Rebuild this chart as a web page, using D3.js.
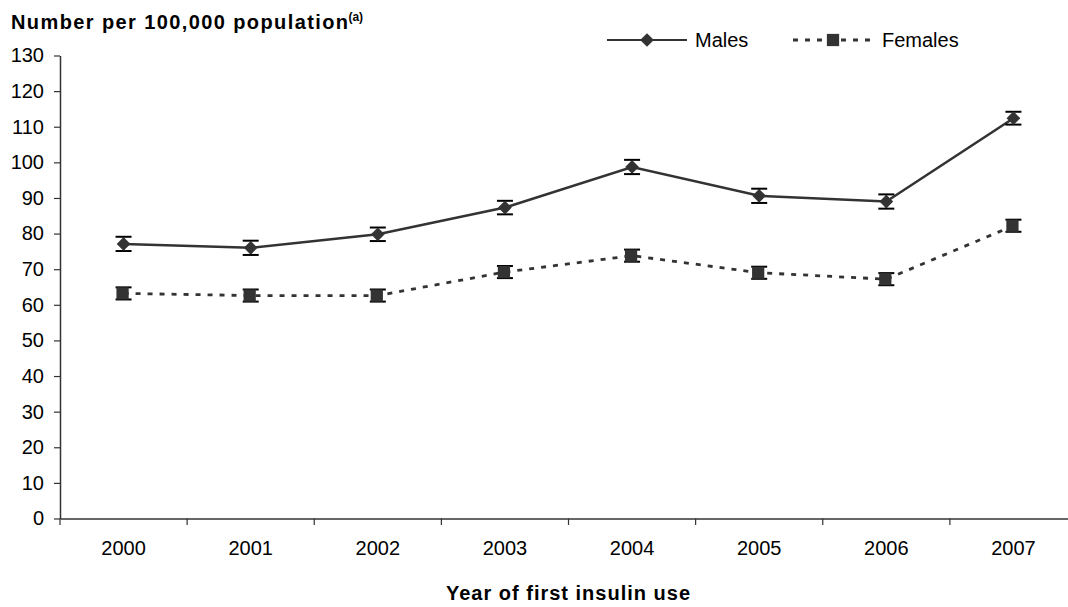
<!DOCTYPE html>
<html>
<head>
<meta charset="utf-8">
<script src="https://cdn.jsdelivr.net/npm/d3@7"></script>
<style>
  body { margin: 0; background: #fff; }
  svg { display: block; font-family: "Liberation Sans", Arial, sans-serif; }
</style>
</head>
<body>
<svg id="chart" width="1068" height="607"></svg>
<script>
const years = ["2000", "2001", "2002", "2003", "2004", "2005", "2006", "2007"];
const males = [77.1, 76.0, 79.8, 87.3, 98.7, 90.6, 89.0, 112.4];
const maleErr = [2.0, 2.0, 1.9, 1.9, 2.0, 2.0, 2.0, 1.8];
const females = [63.2, 62.6, 62.6, 69.2, 73.8, 69.0, 67.2, 82.2];
const femaleErr = [1.7, 1.7, 1.7, 1.7, 1.7, 1.7, 1.7, 1.7];
const yTicks = [0, 10, 20, 30, 40, 50, 60, 70, 80, 90, 100, 110, 120, 130];
const seriesNames = ["Males", "Females"];

const svg = d3.select("#chart");
const col = "#333333";

const x = d3.scaleBand().domain(years).range([60, 1077]).padding(0);
const y = d3.scaleLinear().domain([0, 130]).range([518.5, 55.5]);
const cx = d => x(d) + x.bandwidth() / 2;

// Y axis
const yAxis = svg.append("g").attr("transform", "translate(60,0)")
  .call(d3.axisLeft(y).tickValues(yTicks).tickSize(6).tickSizeOuter(0).tickPadding(10));
yAxis.select(".domain").attr("stroke", col).attr("stroke-width", 1.5);
yAxis.selectAll(".tick line").attr("stroke", col).attr("stroke-width", 1.2);
yAxis.selectAll(".tick text").attr("font-size", 20).attr("fill", "#000")
  .attr("font-family", "Liberation Sans, Arial, sans-serif");

// X axis
const xAxis = svg.append("g").attr("transform", "translate(0,518.5)")
  .call(d3.axisBottom(x).tickSize(0).tickSizeOuter(0).tickPadding(22));
xAxis.select(".domain").attr("stroke", col).attr("stroke-width", 1.5);
xAxis.selectAll(".tick text").attr("font-size", 20).attr("fill", "#000")
  .attr("font-family", "Liberation Sans, Arial, sans-serif");
const edges = years.map(d => x(d)).concat([x(years[years.length - 1]) + x.bandwidth()]);
svg.append("g").selectAll("line").data(edges).join("line")
  .attr("x1", d => d).attr("x2", d => d)
  .attr("y1", 518.5).attr("y2", 525)
  .attr("stroke", col).attr("stroke-width", 1.2);

// Titles
const t = svg.append("text").attr("x", 11).attr("y", 29)
  .attr("font-size", 20).attr("font-weight", "bold").attr("fill", "#000");
t.append("tspan").attr("letter-spacing", 1.4).text("Number per 100,000 population");
t.append("tspan").attr("font-size", 12).attr("dy", -8).attr("dx", -1).text("(a)");

svg.append("text").attr("x", (60 + 1077) / 2).attr("y", 600)
  .attr("text-anchor", "middle").attr("font-size", 20).attr("font-weight", "bold")
  .attr("letter-spacing", 1).attr("fill", "#000")
  .text("Year of first insulin use");

// Lines
const lineGen = d3.line().x((d, i) => cx(years[i])).y(d => y(d));
svg.append("path").datum(males).attr("d", lineGen)
  .attr("fill", "none").attr("stroke", col).attr("stroke-width", 2.5);
svg.append("path").datum(females).attr("d", lineGen)
  .attr("fill", "none").attr("stroke", col).attr("stroke-width", 2.8)
  .attr("stroke-dasharray", "5,7");

// Error bars
function errorBars(vals, errs) {
  const g = svg.append("g").attr("stroke", "#000");
  vals.forEach((v, i) => {
    const px = cx(years[i]);
    g.append("line").attr("x1", px).attr("x2", px)
      .attr("y1", y(v - errs[i])).attr("y2", y(v + errs[i])).attr("stroke-width", 1.5);
    [v - errs[i], v + errs[i]].forEach(e => {
      g.append("line").attr("x1", px - 8).attr("x2", px + 8)
        .attr("y1", y(e)).attr("y2", y(e)).attr("stroke-width", 2);
    });
  });
}
errorBars(males, maleErr);
errorBars(females, femaleErr);

// Markers
const diamond = d3.symbol().type(d3.symbolDiamond2).size(120);
const square = d3.symbol().type(d3.symbolSquare).size(150);
svg.append("g").selectAll("path").data(males).join("path")
  .attr("d", diamond)
  .attr("transform", (d, i) => `translate(${cx(years[i])},${y(d)})`)
  .attr("fill", col);
svg.append("g").selectAll("path").data(females).join("path")
  .attr("d", square)
  .attr("transform", (d, i) => `translate(${cx(years[i]) - 1},${y(d)})`)
  .attr("fill", col);

// Legend
const legendX = [607, 793];
const legendTextX = [695, 882];
const legendY = 40;
seriesNames.forEach((name, i) => {
  const g = svg.append("g");
  g.append("line").attr("x1", legendX[i]).attr("x2", legendX[i] + 80)
    .attr("y1", legendY).attr("y2", legendY)
    .attr("stroke", col).attr("stroke-width", i === 0 ? 2 : 2.8)
    .attr("stroke-dasharray", i === 0 ? null : "5,7");
  g.append("path").attr("d", i === 0 ? diamond : square)
    .attr("transform", `translate(${legendX[i] + 40},${legendY})`)
    .attr("fill", col);
  g.append("text").attr("x", legendTextX[i]).attr("y", legendY + 7)
    .attr("font-size", 20).attr("fill", "#000").text(name);
});
</script>
</body>
</html>
